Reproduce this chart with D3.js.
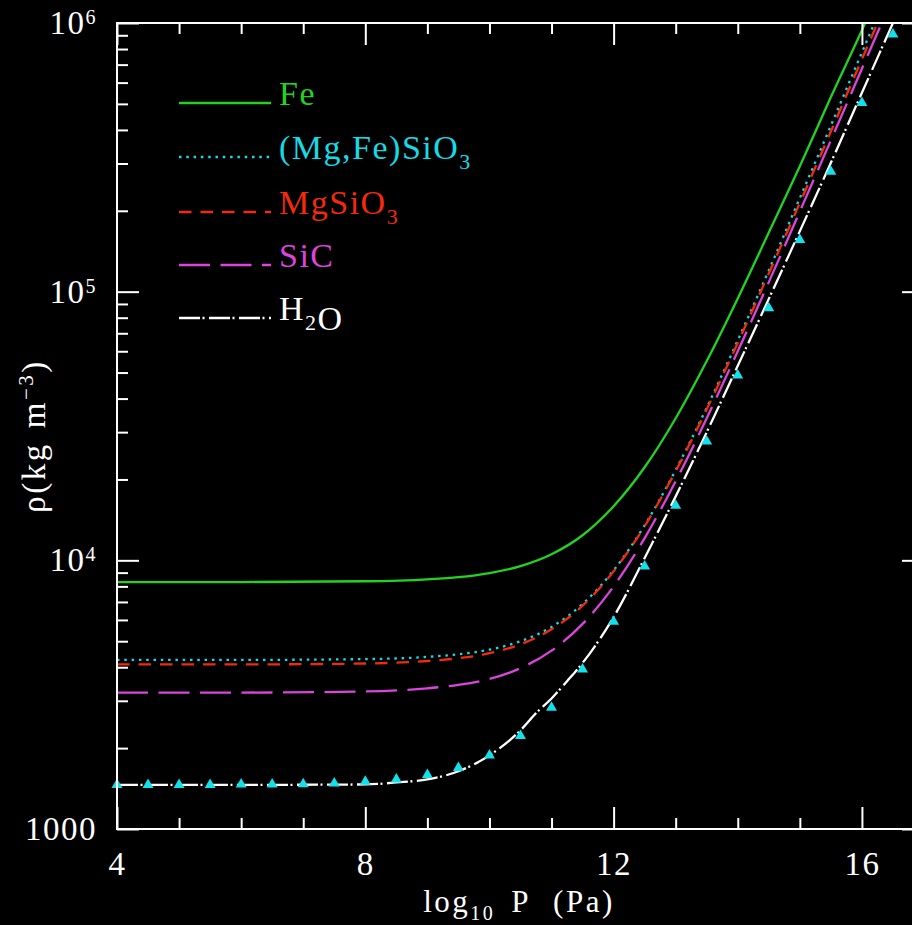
<!DOCTYPE html>
<html>
<head>
<meta charset="utf-8">
<script src="https://cdn.jsdelivr.net/npm/d3@7"></script>
<style>
  html, body { margin: 0; padding: 0; background: #000; }
  svg { display: block; }
  text { font-family: "Liberation Serif", "Times New Roman", serif; fill: #fff; }
</style>
</head>
<body>
<svg id="chart" width="912" height="925"></svg>
<script>
// log10 of pressure (Pa) at which the density curves are sampled
const logP = [4, 6, 8, 9, 9.5, 10, 10.5, 11, 11.5, 12, 12.5, 13, 13.5, 14, 14.5, 15, 15.5, 16, 16.5, 17];

// density (kg m^-3) along logP for each material
const rhoFe      = [8300, 8300, 8360, 8500, 8660, 8970, 9520, 10540, 12400, 15900, 22200, 33800, 55200, 94400, 166000, 293000, 530000, 940000, 1.72e6, 3.2e6];
const rhoMgFeSiO3 = [4260, 4260, 4290, 4370, 4470, 4650, 5000, 5650, 6880, 9180, 13500, 21700, 37000, 65900, 120000, 223000, 415000, 777000, 1.45e6, 2.73e6];
const rhoMgSiO3  = [4100, 4100, 4130, 4220, 4320, 4510, 4870, 5540, 6780, 9100, 13400, 21500, 36500, 64500, 117000, 214000, 395000, 734000, 1.36e6, 2.53e6];
const rhoSiC     = [3220, 3220, 3250, 3340, 3440, 3620, 3970, 4610, 5800, 8000, 12100, 19700, 33800, 60000, 108500, 199000, 366000, 676000, 1.25e6, 2.32e6];

// water equation of state (finer sampling around the phase change)
const logPWater = [4, 6, 8, 8.5, 9, 9.5, 10, 10.5, 10.75, 11, 11.25, 11.5, 12, 12.5, 13, 13.5, 14, 14.5, 15, 15.5, 16, 16.5, 17];
const rhoWater  = [1460, 1460, 1465, 1490, 1530, 1640, 1880, 2330, 2700, 3060, 3550, 4150, 6150, 10200, 17300, 30000, 53000, 94000, 168000, 302000, 550000, 1.0e6, 1.8e6];

// fitted water densities shown as markers
const logPFit     = [4, 4.5, 5, 5.5, 6, 6.5, 7, 7.5, 8, 8.5, 9, 9.5, 10, 10.5, 11, 11.5, 12, 12.5, 13, 13.5, 14, 14.5, 15, 15.5, 16, 16.5];
const rhoWaterFit = [1460, 1460, 1460, 1460, 1465, 1465, 1470, 1480, 1500, 1530, 1590, 1690, 1880, 2220, 2830, 3930, 5920, 9500, 16000, 27700, 48800, 86900, 156000, 280000, 504000, 908000];

// axis ticks
const xMajor = [4, 8, 12, 16];
const yMajor = [1e3, 1e4, 1e5, 1e6];
const yTickText = [["1000", ""], ["10", "4"], ["10", "5"], ["10", "6"]];

// legend labels: [text, subscript] pieces
const legendLabels = [
  [["Fe", ""]],
  [["(Mg,Fe)SiO", "3"]],
  [["MgSiO", "3"]],
  [["SiC", ""]],
  [["H", "2"], ["O", ""]]
];

const W = 912, H = 925;
const plot = { left: 117, right: 924, top: 23, bottom: 829 };

const x = d3.scaleLinear().domain([4, 17]).range([plot.left, plot.right]);
const y = d3.scaleLog().domain([1000, 1e6]).range([plot.bottom, plot.top]);

const svg = d3.select("#chart");
svg.append("rect").attr("width", W).attr("height", H).attr("fill", "#000");

svg.append("defs").append("clipPath").attr("id", "plotClip")
  .append("rect")
  .attr("x", plot.left).attr("y", plot.top)
  .attr("width", plot.right - plot.left).attr("height", plot.bottom - plot.top);

const styles = [
  { color: "#22d422", dash: null },
  { color: "#14dce6", dash: "2.5,4.8" },
  { color: "#f42a0c", dash: "12.5,9" },
  { color: "#dc44dc", dash: "31,10.5" },
  { color: "#ffffff", dash: "21,2.5,2,4.5" }
];

const series = [
  { xs: logP, ys: rhoFe },
  { xs: logP, ys: rhoMgFeSiO3 },
  { xs: logP, ys: rhoMgSiO3 },
  { xs: logP, ys: rhoSiC },
  { xs: logPWater, ys: rhoWater }
];

const line = d3.line()
  .x(d => x(d[0]))
  .y(d => y(d[1]))
  .curve(d3.curveMonotoneX);

const curves = svg.append("g").attr("clip-path", "url(#plotClip)");
series.forEach((s, i) => {
  const pts = s.xs.map((v, j) => [v, s.ys[j]]);
  curves.append("path")
    .attr("d", line(pts))
    .attr("fill", "none")
    .attr("stroke", styles[i].color)
    .attr("stroke-width", 2.3)
    .attr("stroke-dasharray", styles[i].dash);
});

// fit markers
const tri = d3.symbol().type(d3.symbolTriangle).size(52);
svg.append("g").selectAll("path")
  .data(logPFit.map((v, j) => [v, rhoWaterFit[j]]))
  .join("path")
  .attr("d", tri)
  .attr("transform", d => `translate(${x(d[0])},${y(d[1])})`)
  .attr("fill", "#12e0ea");

// axes: ticks point inwards on all four sides
const xMinor = d3.range(4, 18).filter(v => !xMajor.includes(v));
const yMinor = d3.range(3, 6).flatMap(e => d3.range(2, 10).map(m => m * Math.pow(10, e)));

function styleAxis(g) {
  g.attr("font-family", null).attr("font-size", null);
  g.select(".domain").remove();
  g.selectAll(".tick line").attr("stroke", "#fff").attr("stroke-width", 2);
}

svg.append("g").attr("transform", `translate(0,${plot.bottom})`)
  .call(d3.axisBottom(x).tickValues(xMinor).tickSizeInner(-11).tickSizeOuter(0).tickFormat(""))
  .call(styleAxis);
const gxb = svg.append("g").attr("transform", `translate(0,${plot.bottom})`)
  .call(d3.axisBottom(x).tickValues(xMajor).tickSizeInner(-22).tickSizeOuter(0)
    .tickPadding(23).tickFormat(d3.format("d")))
  .call(styleAxis);
gxb.selectAll(".tick text")
  .attr("fill", "#fff").attr("font-size", 33).attr("letter-spacing", 1.5);

svg.append("g").attr("transform", `translate(0,${plot.top})`)
  .call(d3.axisTop(x).tickValues(xMinor).tickSizeInner(-11).tickSizeOuter(0).tickFormat(""))
  .call(styleAxis);
svg.append("g").attr("transform", `translate(0,${plot.top})`)
  .call(d3.axisTop(x).tickValues(xMajor).tickSizeInner(-22).tickSizeOuter(0).tickFormat(""))
  .call(styleAxis);

svg.append("g").attr("transform", `translate(${plot.left},0)`)
  .call(d3.axisLeft(y).tickValues(yMinor).tickSizeInner(-11).tickSizeOuter(0).tickFormat(""))
  .call(styleAxis);
svg.append("g").attr("transform", `translate(${plot.left},0)`)
  .call(d3.axisLeft(y).tickValues(yMajor).tickSizeInner(-22).tickSizeOuter(0).tickFormat(""))
  .call(styleAxis);
svg.append("g").attr("transform", `translate(${plot.right},0)`)
  .call(d3.axisRight(y).tickValues(yMinor).tickSizeInner(-11).tickSizeOuter(0).tickFormat(""))
  .call(styleAxis);
svg.append("g").attr("transform", `translate(${plot.right},0)`)
  .call(d3.axisRight(y).tickValues(yMajor).tickSizeInner(-22).tickSizeOuter(0).tickFormat(""))
  .call(styleAxis);

// frame
svg.append("rect")
  .attr("x", plot.left).attr("y", plot.top)
  .attr("width", plot.right - plot.left).attr("height", plot.bottom - plot.top)
  .attr("fill", "none").attr("stroke", "#fff").attr("stroke-width", 2);

// y tick labels with powers of ten
yMajor.forEach((v, i) => {
  const t = svg.append("text")
    .attr("x", plot.left - 20).attr("y", y(v) + 11)
    .attr("text-anchor", "end").attr("font-size", 33).attr("letter-spacing", 1.5);
  t.append("tspan").text(yTickText[i][0]);
  if (yTickText[i][1]) {
    t.append("tspan").attr("dy", -10).attr("font-size", 20).text(yTickText[i][1]);
  }
});

// axis titles
const xt = svg.append("text")
  .attr("x", 519).attr("y", 912)
  .attr("text-anchor", "middle").attr("font-size", 31).attr("letter-spacing", 2.5);
xt.append("tspan").text("log");
xt.append("tspan").attr("dy", 8).attr("font-size", 20).text("10");
xt.append("tspan").attr("dy", -8).attr("dx", 16).text("P");
xt.append("tspan").attr("dx", 22).text("(Pa)");

const yt = svg.append("text")
  .attr("transform", "translate(45,436) rotate(-90)")
  .attr("text-anchor", "middle").attr("font-size", 33).attr("letter-spacing", 2.5);
yt.append("tspan").text("ρ(kg");
yt.append("tspan").attr("dx", 14).text("m");
yt.append("tspan").attr("dy", -12).attr("font-size", 21).text("−3");
yt.append("tspan").attr("dy", 12).text(")");

// legend
const legendRows = [103, 157, 212, 265, 318];
const legend = svg.append("g");
legendLabels.forEach((parts, i) => {
  const ly = legendRows[i];
  legend.append("line")
    .attr("x1", 179).attr("x2", 271).attr("y1", ly).attr("y2", ly)
    .attr("stroke", styles[i].color).attr("stroke-width", 2.5)
    .attr("stroke-dasharray", styles[i].dash);
  const t = legend.append("text")
    .attr("x", 279).attr("y", ly + 2)
    .attr("font-size", 34).attr("letter-spacing", 1.5)
    .style("fill", styles[i].color);
  parts.forEach(([main, sub]) => {
    t.append("tspan").text(main);
    if (sub) {
      t.append("tspan").attr("dy", 10).attr("font-size", 22).text(sub);
      t.append("tspan").attr("dy", -10).text("");
    }
  });
});
</script>
</body>
</html>
